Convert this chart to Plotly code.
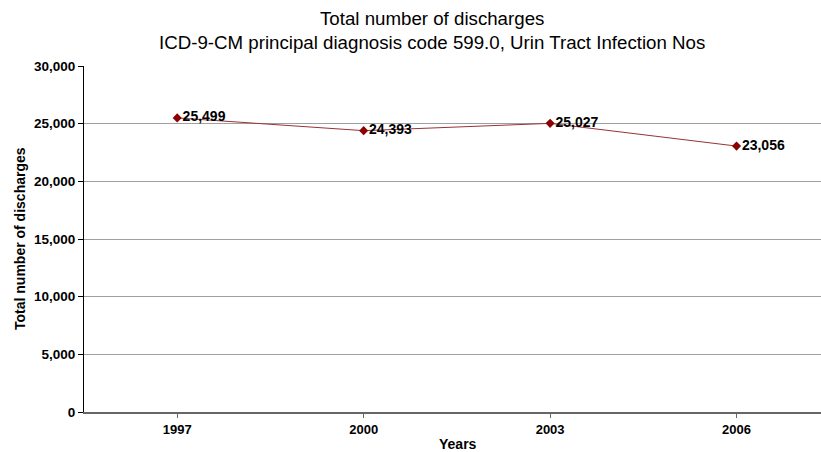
import plotly.graph_objects as go

years = ["1997", "2000", "2003", "2006"]
discharges = [25499, 24393, 25027, 23056]
y_ticks = [0, 5000, 10000, 15000, 20000, 25000, 30000]
title_lines = ["Total number of discharges",
               "ICD-9-CM principal diagnosis code 599.0, Urin Tract Infection Nos"]

FONT = "Liberation Sans, Arial, sans-serif"
LINE = "#993333"
MARK = "#8B0000"

# Plot area in pixels
W, H = 821, 452
L, R, T, B = 84, 0, 66, 40

fig = go.Figure()
fig.add_trace(go.Scatter(
    x=list(range(len(years))),
    y=discharges,
    mode="lines+markers+text",
    line=dict(color=LINE, width=1),
    marker=dict(symbol="diamond", size=7, color=MARK),
    text=[f"{v:,}" for v in discharges],
    textposition="middle right",
    textfont=dict(family=FONT, size=14, color="#000000", weight="bold"),
    cliponaxis=False,
    showlegend=False,
))

fig.update_layout(
    width=W, height=H,
    margin=dict(l=L, r=R, t=T, b=B),
    paper_bgcolor="white", plot_bgcolor="white",
    font=dict(family=FONT, color="#000000"),
)

fig.update_xaxes(
    range=[-0.5, 3.453],
    tickvals=list(range(len(years))),
    ticktext=years,
    ticks="outside", ticklen=4, tickcolor="#666666",
    showline=True, linecolor="#666666", linewidth=2,
    showgrid=False, zeroline=False,
    tickfont=dict(family=FONT, size=13, weight="bold"),
)
fig.update_yaxes(
    range=[0, 30000],
    tickvals=y_ticks,
    ticktext=[f"{v:,}" for v in y_ticks],
    ticks="outside", ticklen=5, tickcolor="#000000",
    showline=True, linecolor="#000000", linewidth=1,
    showgrid=True, gridcolor="#a0a0a0", gridwidth=1,
    zeroline=False,
    tickfont=dict(family=FONT, size=13.5, weight="bold"),
)


def px_x(px):
    return (px - L) / (W - L - R)


def px_y(py):
    return (H - B - py) / (H - T - B)


def label(text, x, y, size, bold=False, angle=0):
    fig.add_annotation(text=text, x=px_x(x), y=px_y(y),
                       xref="paper", yref="paper", showarrow=False,
                       xanchor="center", yanchor="middle", textangle=angle,
                       font=dict(family=FONT, size=size,
                                 weight="bold" if bold else "normal"))


label(title_lines[0], 432, 18, 18.7)
label(title_lines[1], 432, 42, 18.7)
label("Years", 458, 444, 14, bold=True)
label("Total number of discharges", 20, 239, 14, bold=True, angle=-90)

fig.write_html("out.html")
